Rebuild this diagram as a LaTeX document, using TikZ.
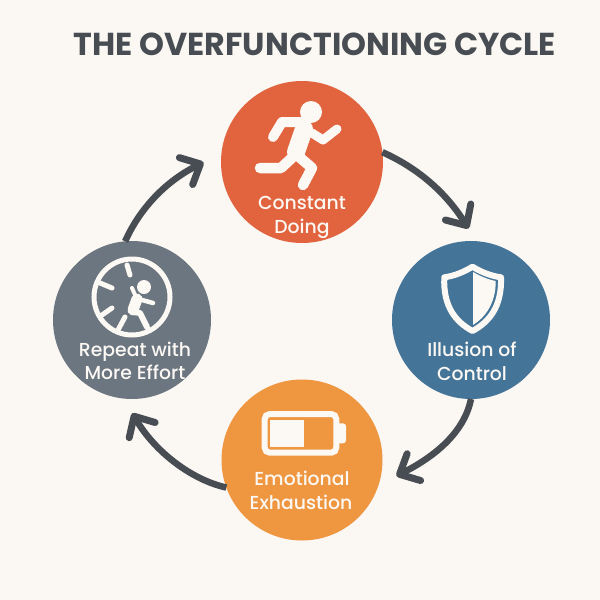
\documentclass[tikz,border=0pt]{standalone}
\usepackage{fontspec}
\setmainfont{Poppins}
\newfontfamily\medfont{Poppins Medium}
\usetikzlibrary{arrows.meta}
\definecolor{bgc}{HTML}{FBF7F3}
\definecolor{redc}{HTML}{E1643F}
\definecolor{grayc}{HTML}{6C7680}
\definecolor{bluec}{HTML}{447599}
\definecolor{orangec}{HTML}{EE9640}
\definecolor{darkc}{HTML}{474D52}
\definecolor{iconc}{HTML}{FCF8F4}
\tikzset{
  x=1pt,y=-1pt,
  stage/.style={circle,inner sep=0pt,outer sep=0pt,minimum size=#1},
  lbl/.style={text=iconc,font=\medfont\fontsize{18.8}{24}\selectfont,inner sep=0pt,anchor=base},
  link/.style={draw=darkc,line width=6.5pt,-{Straight Barb[length=16pt,width=30pt,line width=7pt,round]}},
  ico/.style={draw=iconc,line cap=round,line join=round}
}
\begin{document}
\begin{tikzpicture}
\useasboundingbox[fill=bgc] (0,0) rectangle (600,600);
\node[text=darkc,font=\fontsize{31.7}{36}\selectfont\bfseries,inner sep=0pt,anchor=base] (title) at (315,55) {THE OVERFUNCTIONING CYCLE};

\node[stage=162pt,fill=redc] (red) at (302,162) {};
\node[stage=158pt,fill=bluec] (blue) at (471,320) {};
\node[stage=161pt,fill=orangec] (orange) at (302,460) {};
\node[stage=158pt,fill=grayc] (gray) at (132,320) {};

\draw[link,shorten >=15pt] (red.7) .. controls (422,170) and (448,196) .. (blue.86);
\draw[link,shorten >=20pt] (blue.270) .. controls (464,434) and (432,458) .. (orange.-18);
\draw[link,shorten >=17pt] (orange.200) .. controls (192,480) and (155,452) .. (gray.264);
\draw[link,shorten >=20pt] (gray.95) .. controls (141,206) and (168,180) .. (red.174);

\node[lbl] (l1a) at (302,209) {Constant};
\node[lbl] (l1b) at (302,233) {Doing};
\node[lbl] (l2a) at (472,356) {Illusion of};
\node[lbl] (l2b) at (472,380) {Control};
\node[lbl] (l3a) at (302,485) {Emotional};
\node[lbl] (l3b) at (301,509) {Exhaustion};
\node[lbl] (l4a) at (135,356) {Repeat with};
\node[lbl] (l4b) at (135,379) {More Effort};

% runner
\fill[iconc] (311,112) circle (11);
\draw[ico,line width=18pt] (304,129) -- (296,152);
\draw[ico,line width=10pt] (303,122) -- (282,122) -- (273,137);
\draw[ico,line width=9pt] (312,133) -- (323,140) -- (337,129);
\draw[ico,line width=10.5pt] (295,155) -- (281,168) -- (260,168);
\draw[ico,line width=10.5pt] (297,155) -- (312,168) -- (303,185);

% shield
\draw[ico,line width=6pt] (472.5,266.7) .. controls (464,272) and (454,276) .. (444.3,277.3)
  .. controls (443,307) and (456,322) .. (472.5,331)
  .. controls (489,322) and (502,307) .. (501,277.3)
  .. controls (491,276) and (481,272) .. (472.5,266.7) -- cycle;
\fill[iconc] (473,272) .. controls (480,276) and (488,279.5) .. (495.7,281)
  .. controls (496,302) and (486,317) .. (473,325) -- cycle;

% battery
\draw[iconc,line width=6pt,rounded corners=5pt] (264.7,414) rectangle (336.3,452.7);
\fill[iconc] (270,420) rectangle (304.3,446.7);
\fill[iconc,rounded corners=3pt] (336,423.3) rectangle (346,443.3);

% wheel and figure
\draw[iconc,line width=5pt] (132,297) circle (38);
\draw[ico,line width=5pt] (127,265) -- (130,275);
\draw[ico,line width=5pt] (100,283) -- (112,288);
\draw[ico,line width=5pt] (102,315) -- (112,308);
\draw[ico,line width=5pt] (118,330) -- (125,317);
\fill[iconc] (144,287) circle (7);
\draw[ico,line width=11pt] (137,299) -- (133,310);
\draw[ico,line width=4pt] (132,288) -- (136,297);
\draw[ico,line width=4.5pt] (142,300) -- (153,303);
\draw[ico,line width=6pt] (133,312) -- (140,313) -- (147,327);
\end{tikzpicture}
\end{document}
